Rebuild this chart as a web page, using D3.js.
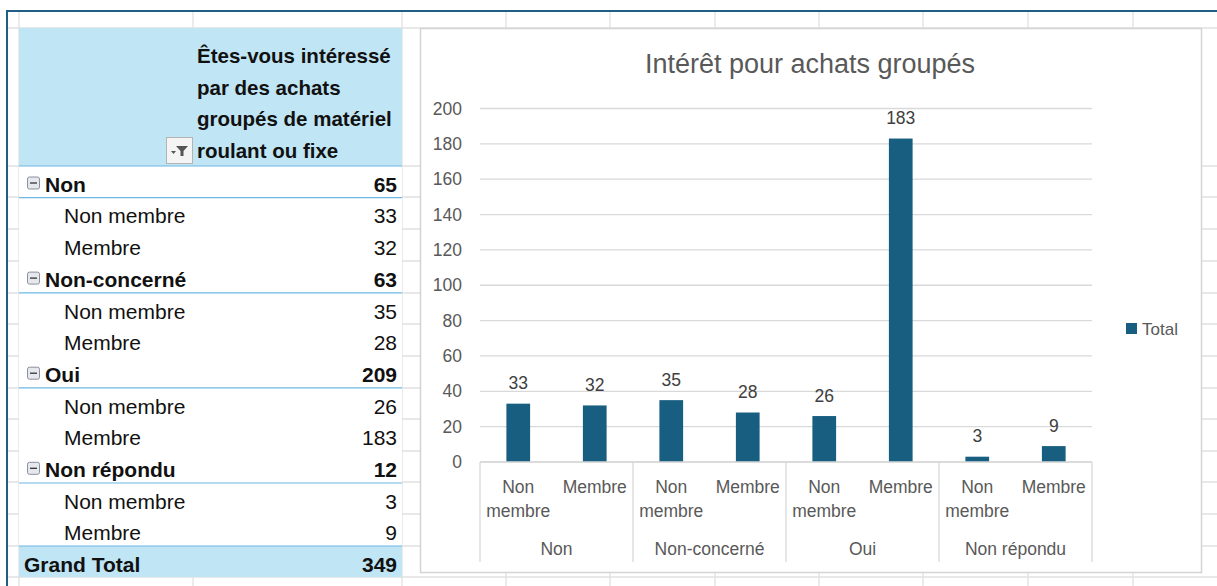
<!DOCTYPE html>
<html>
<head>
<meta charset="utf-8">
<script src="https://cdn.jsdelivr.net/npm/d3@7"></script>
<style>
  body { margin: 0; background: #fff; }
  svg { display: block; font-family: "Liberation Sans", Arial, sans-serif; }
</style>
</head>
<body>
<svg id="sheet" width="1217" height="586"></svg>
<script>
// donnees du tableau croise
const groups = ["Non", "Non-concerné", "Oui", "Non répondu"]
const members = ["Non membre", "Membre"]
const values = [33, 32, 35, 28, 26, 183, 3, 9]
const yTicks = [0, 20, 40, 60, 80, 100, 120, 140, 160, 180, 200]
const headerLines = ["Êtes-vous intéressé", "par des achats", "groupés de matériel", "roulant ou fixe"]
const chartTitle = "Intérêt pour achats groupés"
const seriesName = "Total"

const svg = d3.select('#sheet')
const barColor = '#185e80'
const gridCol = '#e1e1e1'

// grille excel en fond
const colX = [19, 193, 402, 506, 610, 715, 819, 923, 1028, 1133]
const rowY = [28, 166, 197, 229, 261, 293, 324, 356, 388, 419, 451, 482, 514, 546, 577]
svg.selectAll('line.col').data(colX).enter().append('line')
  .attr('x1', d => d).attr('x2', d => d).attr('y1', 11).attr('y2', 586)
  .attr('stroke', gridCol).attr('stroke-width', 1.3)
svg.selectAll('line.row').data(rowY).enter().append('line')
  .attr('x1', 7).attr('x2', 1217).attr('y1', d => d).attr('y2', d => d)
  .attr('stroke', gridCol).attr('stroke-width', 1.3)

// bord sombre (selection)
svg.append('line').attr('x1', 6).attr('x2', 1217).attr('y1', 11).attr('y2', 11)
  .attr('stroke', '#1f5f86').attr('stroke-width', 2)
svg.append('line').attr('x1', 7).attr('x2', 7).attr('y1', 10).attr('y2', 586)
  .attr('stroke', '#1f5f86').attr('stroke-width', 2)

// ---------- tableau croise ----------
const tx0 = 19, tx1 = 402
const tab = svg.append('g')
tab.append('rect').attr('x', tx0).attr('y', 28).attr('width', tx1 - tx0).attr('height', 549).attr('fill', '#fff')
tab.append('rect').attr('x', tx0).attr('y', 28).attr('width', tx1 - tx0).attr('height', 138).attr('fill', '#c0e5f5')
tab.append('rect').attr('x', tx0).attr('y', 546).attr('width', tx1 - tx0).attr('height', 31).attr('fill', '#c0e5f5')

tab.selectAll('text.hdr').data(headerLines).enter().append('text')
  .attr('x', 197).attr('y', (d, i) => 63 + i * 31.7)
  .attr('font-size', 20.5).attr('font-weight', 'bold').attr('fill', '#111')
  .text(d => d)

// bouton filtre
const fb = tab.append('g').attr('transform', 'translate(166,137)')
fb.append('rect').attr('x', 0.5).attr('y', 0.5).attr('width', 26).attr('height', 26)
  .attr('fill', '#f4f4f4').attr('stroke', '#b4b4b4')
fb.append('path').attr('d', 'M10,9 L22,9 L17.5,14 L17.5,19 L14.5,19 L14.5,14 Z').attr('fill', '#555')
fb.append('path').attr('d', 'M5,14 L10,14 L7.5,17 Z').attr('fill', '#555')

// lignes du tableau
let rows = []
groups.forEach((g, gi) => {
  let sub = values.slice(gi * 2, gi * 2 + 2)
  rows.push({ label: g, value: d3.sum(sub), type: 'group' })
  members.forEach((m, mi) => rows.push({ label: m, value: sub[mi], type: 'sub' }))
})
rows.push({ label: 'Grand Total', value: d3.sum(values), type: 'total' })

const rowTop = 166, rowH = 31.7
rows.forEach((r, i) => {
  let yb = rowTop + (i + 1) * rowH - 6
  let bold = r.type != 'sub'
  let lx = r.type == 'group' ? 45 : r.type == 'sub' ? 64 : 24
  tab.append('text').attr('x', lx).attr('y', yb)
    .attr('font-size', 21).attr('font-weight', bold ? 'bold' : 'normal').attr('fill', '#111')
    .text(r.label)
  tab.append('text').attr('x', 397).attr('y', yb).attr('text-anchor', 'end')
    .attr('font-size', 21).attr('font-weight', bold ? 'bold' : 'normal').attr('fill', '#111')
    .text(r.value)
  if (r.type == 'group') {
    let by = rowTop + i * rowH + 11
    tab.append('rect').attr('x', 27.5).attr('y', by).attr('width', 12).attr('height', 12).attr('rx', 2)
      .attr('fill', '#e6e8ee').attr('stroke', '#8a8f9c')
    tab.append('line').attr('x1', 30).attr('x2', 37).attr('y1', by + 6).attr('y2', by + 6)
      .attr('stroke', '#333').attr('stroke-width', 1.3)
    // ligne bleue sous le groupe
    tab.append('line').attr('x1', tx0).attr('x2', tx1)
      .attr('y1', rowTop + (i + 1) * rowH).attr('y2', rowTop + (i + 1) * rowH)
      .attr('stroke', '#6cb8e2').attr('stroke-width', 1.2)
  }
})
tab.append('line').attr('x1', tx0).attr('x2', tx1).attr('y1', 166).attr('y2', 166)
  .attr('stroke', '#6cb8e2').attr('stroke-width', 1.2)
tab.append('line').attr('x1', tx0).attr('x2', tx1).attr('y1', 546).attr('y2', 546)
  .attr('stroke', '#6cb8e2').attr('stroke-width', 1.2)

// ---------- graphique ----------
const chart = svg.append('g')
chart.append('rect').attr('x', 420.5).attr('y', 28.5).attr('width', 781).attr('height', 544)
  .attr('fill', '#fff').attr('stroke', '#d4d4d4').attr('stroke-width', 1.5)

chart.append('text').attr('x', 810).attr('y', 73).attr('text-anchor', 'middle')
  .attr('font-size', 27).attr('fill', '#595959').text(chartTitle)

const px0 = 480, px1 = 1092
const y = d3.scaleLinear().domain([0, 200]).range([462, 108.5])
const xg = d3.scaleBand().domain(groups).range([px0, px1])
const xs = d3.scaleBand().domain(members).range([0, xg.bandwidth()]).padding(0.69).paddingOuter(0.345)

// quadrillage
chart.selectAll('line.grid').data(yTicks).enter().append('line')
  .attr('x1', px0).attr('x2', px1).attr('y1', d => y(d)).attr('y2', d => y(d))
  .attr('stroke', '#d9d9d9').attr('stroke-width', 1.3)

const yAxis = d3.axisLeft(y).tickValues(yTicks).tickSize(0).tickPadding(0)
const ya = chart.append('g').attr('transform', `translate(462,0)`).call(yAxis)
ya.select('.domain').remove()
ya.selectAll('text').attr('font-size', 17.5).attr('fill', '#595959')
  .attr('font-family', '"Liberation Sans", Arial, sans-serif')

// barres
let barData = []
groups.forEach((g, gi) => members.forEach((m, mi) => barData.push({ g, m, v: values[gi * 2 + mi] })))

chart.selectAll('rect.bar').data(barData).enter().append('rect')
  .attr('x', d => xg(d.g) + xs(d.m))
  .attr('y', d => y(d.v))
  .attr('width', xs.bandwidth())
  .attr('height', d => y(0) - y(d.v))
  .attr('fill', barColor)

chart.selectAll('text.lab').data(barData).enter().append('text')
  .attr('x', d => xg(d.g) + xs(d.m) + xs.bandwidth() / 2)
  .attr('y', d => y(d.v) - 14.5)
  .attr('text-anchor', 'middle').attr('font-size', 17.5).attr('fill', '#404040')
  .text(d => d.v)

// axe des categories (2 niveaux)
const sep = groups.map(g => xg(g)).concat([px1])
chart.selectAll('line.sep').data(sep).enter().append('line')
  .attr('x1', d => d).attr('x2', d => d).attr('y1', 462).attr('y2', 562)
  .attr('stroke', '#d9d9d9').attr('stroke-width', 1.3)
chart.append('line').attr('x1', px0).attr('x2', px1).attr('y1', 462).attr('y2', 462)
  .attr('stroke', '#d9d9d9').attr('stroke-width', 1.3)

barData.forEach(d => {
  let cx = xg(d.g) + xs(d.m) + xs.bandwidth() / 2
  let t = chart.append('text').attr('x', cx).attr('y', 493).attr('text-anchor', 'middle')
    .attr('font-size', 17.5).attr('fill', '#595959')
  let words = d.m == 'Non membre' ? ['Non', 'membre'] : [d.m]
  words.forEach((w, i) => t.append('tspan').attr('x', cx).attr('dy', i ? 23.7 : 0).text(w))
})
chart.selectAll('text.grp').data(groups).enter().append('text')
  .attr('x', d => xg(d) + xg.bandwidth() / 2).attr('y', 555)
  .attr('text-anchor', 'middle').attr('font-size', 17.5).attr('fill', '#595959')
  .text(d => d)

// legende
chart.append('rect').attr('x', 1126).attr('y', 323).attr('width', 11).attr('height', 11).attr('fill', barColor)
chart.append('text').attr('x', 1142).attr('y', 334.5).attr('font-size', 17).attr('fill', '#595959').text(seriesName)
</script>
</body>
</html>
